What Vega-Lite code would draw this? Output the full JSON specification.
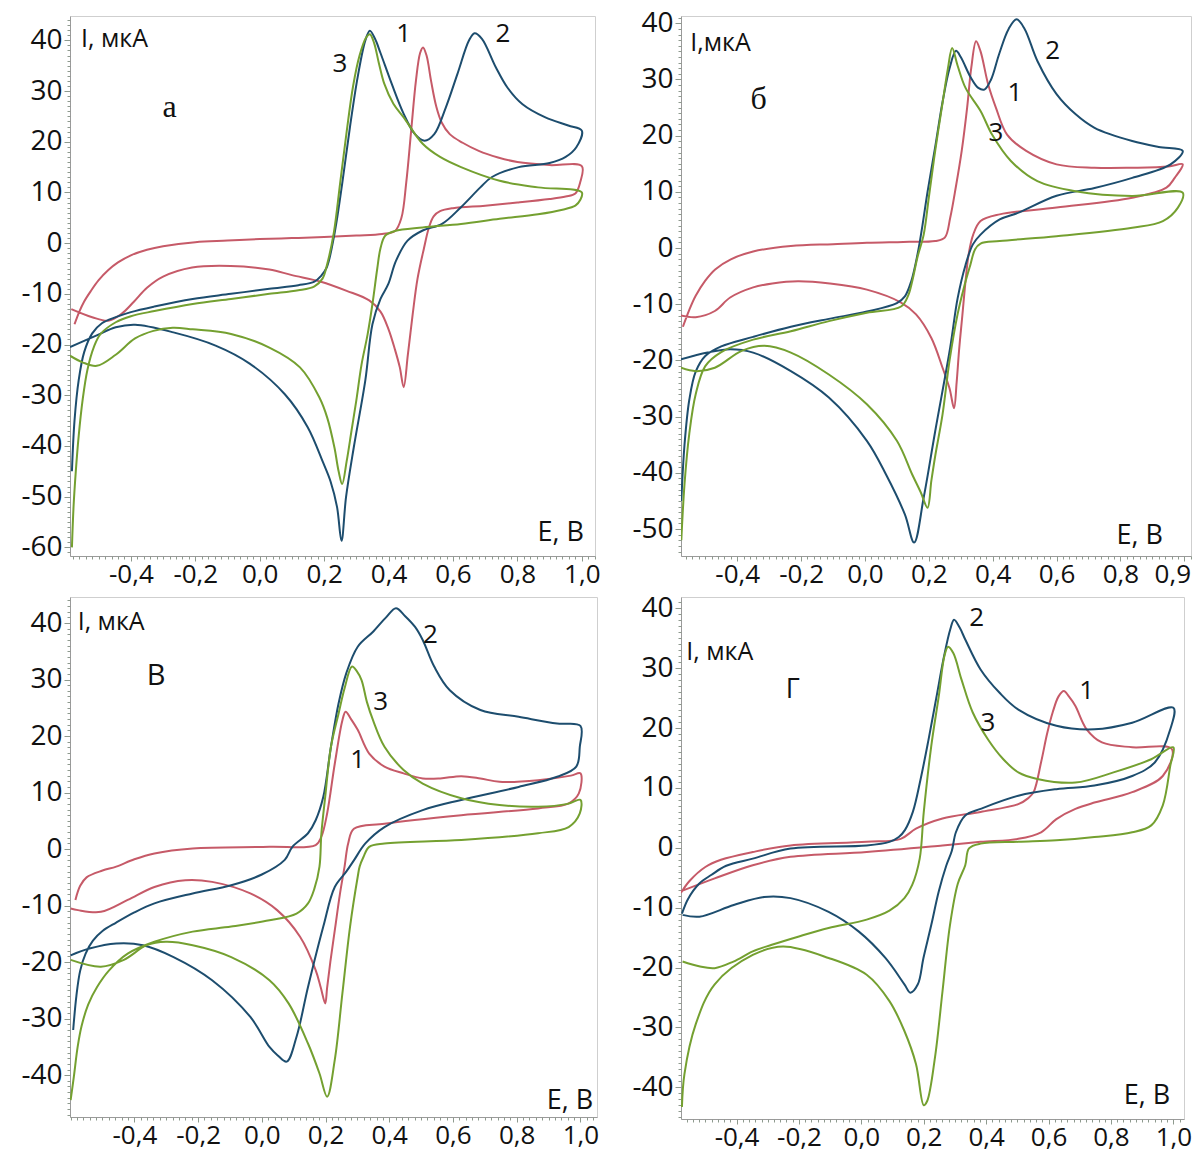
{
"$schema": "https://vega.github.io/schema/vega-lite/v6.json",
"background": "white",
"padding": {"left": 20, "top": 8, "right": 0, "bottom": 2},
"bounds": "flush",
"columns": 2,
"spacing": {"row": 41, "column": 84},
"config": {
 "view": {"stroke": "#cfcfcf", "strokeWidth": 1},
 "font": "Open Sans",
 "axis": {"labelFont": "Open Sans", "labelColor": "#111111", "tickColor": "#8e9a8e", "domainColor": "#9a9a9a", "tickWidth": 1, "grid": false, "labelOverlap": false},
 "text": {"font": "Open Sans", "color": "#111111"}
},
"datasets": {
"a": [
{"c":"1","E":-0.575,"I":-16},{"c":"1","E":-0.56,"I":-13.5},{"c":"1","E":-0.545,"I":-11.5},{"c":"1","E":-0.525,"I":-9.5},{"c":"1","E":-0.5,"I":-7.3},{"c":"1","E":-0.47,"I":-5.3},{"c":"1","E":-0.44,"I":-3.8},{"c":"1","E":-0.4,"I":-2.4},{"c":"1","E":-0.35,"I":-1.3},{"c":"1","E":-0.3,"I":-0.6},{"c":"1","E":-0.2,"I":0.2},{"c":"1","E":-0.1,"I":0.5},{"c":"1","E":0,"I":0.8},{"c":"1","E":0.1,"I":1},{"c":"1","E":0.2,"I":1.2},{"c":"1","E":0.3,"I":1.5},{"c":"1","E":0.38,"I":1.8},{"c":"1","E":0.42,"I":2.4},{"c":"1","E":0.44,"I":5},{"c":"1","E":0.455,"I":12},{"c":"1","E":0.47,"I":22},{"c":"1","E":0.485,"I":32},{"c":"1","E":0.498,"I":37.5},{"c":"1","E":0.507,"I":38.6},{"c":"1","E":0.518,"I":37},{"c":"1","E":0.532,"I":32},{"c":"1","E":0.548,"I":27},{"c":"1","E":0.565,"I":23.8},{"c":"1","E":0.59,"I":21.5},{"c":"1","E":0.63,"I":19.8},{"c":"1","E":0.68,"I":18.2},{"c":"1","E":0.74,"I":16.9},{"c":"1","E":0.8,"I":16},{"c":"1","E":0.9,"I":15.4},{"c":"1","E":1,"I":15.2},{"c":"1","E":0.995,"I":12},{"c":"1","E":0.98,"I":9.8},{"c":"1","E":0.95,"I":9.2},{"c":"1","E":0.9,"I":8.7},{"c":"1","E":0.8,"I":8},{"c":"1","E":0.7,"I":7.4},{"c":"1","E":0.6,"I":6.9},{"c":"1","E":0.56,"I":6.3},{"c":"1","E":0.54,"I":5.3},{"c":"1","E":0.525,"I":3},{"c":"1","E":0.51,"I":-1},{"c":"1","E":0.49,"I":-7},{"c":"1","E":0.475,"I":-14},{"c":"1","E":0.46,"I":-22},{"c":"1","E":0.447,"I":-28.4},{"c":"1","E":0.435,"I":-24.5},{"c":"1","E":0.42,"I":-21},{"c":"1","E":0.4,"I":-17},{"c":"1","E":0.375,"I":-13.5},{"c":"1","E":0.34,"I":-11.3},{"c":"1","E":0.27,"I":-9.4},{"c":"1","E":0.19,"I":-7.6},{"c":"1","E":0.1,"I":-6.3},{"c":"1","E":0.03,"I":-5.2},{"c":"1","E":-0.09,"I":-4.5},{"c":"1","E":-0.21,"I":-4.8},{"c":"1","E":-0.3,"I":-6.6},{"c":"1","E":-0.35,"I":-8.8},{"c":"1","E":-0.39,"I":-11.5},{"c":"1","E":-0.43,"I":-14},{"c":"1","E":-0.47,"I":-15.3},{"c":"1","E":-0.52,"I":-14.6},{"c":"1","E":-0.585,"I":-13},
{"c":"2","E":-0.583,"I":-45},{"c":"2","E":-0.575,"I":-35},{"c":"2","E":-0.562,"I":-27},{"c":"2","E":-0.545,"I":-21.5},{"c":"2","E":-0.52,"I":-17.8},{"c":"2","E":-0.49,"I":-15.8},{"c":"2","E":-0.447,"I":-14.6},{"c":"2","E":-0.4,"I":-13.6},{"c":"2","E":-0.327,"I":-12.5},{"c":"2","E":-0.208,"I":-11},{"c":"2","E":-0.089,"I":-10},{"c":"2","E":0.03,"I":-9},{"c":"2","E":0.12,"I":-8.3},{"c":"2","E":0.17,"I":-7.6},{"c":"2","E":0.19,"I":-6.5},{"c":"2","E":0.208,"I":-4.8},{"c":"2","E":0.232,"I":1.8},{"c":"2","E":0.256,"I":11.7},{"c":"2","E":0.28,"I":22.8},{"c":"2","E":0.304,"I":32.7},{"c":"2","E":0.328,"I":40},{"c":"2","E":0.342,"I":41.9},{"c":"2","E":0.358,"I":40.3},{"c":"2","E":0.375,"I":37.5},{"c":"2","E":0.41,"I":31.4},{"c":"2","E":0.447,"I":25.5},{"c":"2","E":0.482,"I":21.5},{"c":"2","E":0.512,"I":20.2},{"c":"2","E":0.542,"I":21.5},{"c":"2","E":0.578,"I":26.8},{"c":"2","E":0.614,"I":33.4},{"c":"2","E":0.65,"I":40},{"c":"2","E":0.667,"I":41.4},{"c":"2","E":0.69,"I":40.3},{"c":"2","E":0.733,"I":34.7},{"c":"2","E":0.769,"I":30.7},{"c":"2","E":0.816,"I":27.4},{"c":"2","E":0.887,"I":24.8},{"c":"2","E":0.958,"I":23.2},{"c":"2","E":1,"I":22.2},{"c":"2","E":0.983,"I":18.9},{"c":"2","E":0.95,"I":17},{"c":"2","E":0.9,"I":15.8},{"c":"2","E":0.804,"I":15},{"c":"2","E":0.72,"I":13},{"c":"2","E":0.685,"I":11},{"c":"2","E":0.625,"I":7.1},{"c":"2","E":0.566,"I":3.8},{"c":"2","E":0.506,"I":2.5},{"c":"2","E":0.459,"I":0.5},{"c":"2","E":0.423,"I":-3.5},{"c":"2","E":0.399,"I":-8.1},{"c":"2","E":0.375,"I":-11},{"c":"2","E":0.35,"I":-16},{"c":"2","E":0.328,"I":-27},{"c":"2","E":0.292,"I":-40.3},{"c":"2","E":0.268,"I":-50.1},{"c":"2","E":0.254,"I":-58.7},{"c":"2","E":0.24,"I":-52},{"c":"2","E":0.22,"I":-47},{"c":"2","E":0.197,"I":-43.3},{"c":"2","E":0.149,"I":-36.3},{"c":"2","E":0.078,"I":-29.8},{"c":"2","E":-0.03,"I":-23.8},{"c":"2","E":-0.137,"I":-20.2},{"c":"2","E":-0.268,"I":-17.6},{"c":"2","E":-0.387,"I":-16.1},{"c":"2","E":-0.447,"I":-16.6},{"c":"2","E":-0.506,"I":-18.2},{"c":"2","E":-0.589,"I":-20.5},
{"c":"3","E":-0.583,"I":-60},{"c":"3","E":-0.578,"I":-52},{"c":"3","E":-0.571,"I":-45},{"c":"3","E":-0.562,"I":-38},{"c":"3","E":-0.55,"I":-31},{"c":"3","E":-0.535,"I":-25},{"c":"3","E":-0.515,"I":-20.5},{"c":"3","E":-0.494,"I":-17.9},{"c":"3","E":-0.447,"I":-15.6},{"c":"3","E":-0.4,"I":-14.4},{"c":"3","E":-0.327,"I":-13.4},{"c":"3","E":-0.208,"I":-12},{"c":"3","E":-0.089,"I":-11},{"c":"3","E":0.03,"I":-10},{"c":"3","E":0.12,"I":-9.3},{"c":"3","E":0.17,"I":-8.5},{"c":"3","E":0.195,"I":-7},{"c":"3","E":0.21,"I":-4},{"c":"3","E":0.23,"I":2},{"c":"3","E":0.25,"I":12},{"c":"3","E":0.27,"I":22},{"c":"3","E":0.29,"I":31},{"c":"3","E":0.31,"I":37},{"c":"3","E":0.33,"I":40.5},{"c":"3","E":0.342,"I":41.2},{"c":"3","E":0.355,"I":39.5},{"c":"3","E":0.37,"I":35.5},{"c":"3","E":0.387,"I":31.4},{"c":"3","E":0.415,"I":27.5},{"c":"3","E":0.447,"I":24.8},{"c":"3","E":0.506,"I":19.6},{"c":"3","E":0.56,"I":17},{"c":"3","E":0.625,"I":15},{"c":"3","E":0.745,"I":12.3},{"c":"3","E":0.864,"I":11},{"c":"3","E":1,"I":10},{"c":"3","E":0.995,"I":8.5},{"c":"3","E":0.98,"I":7.4},{"c":"3","E":0.94,"I":6.6},{"c":"3","E":0.864,"I":5.7},{"c":"3","E":0.745,"I":4.8},{"c":"3","E":0.625,"I":3.8},{"c":"3","E":0.506,"I":3.1},{"c":"3","E":0.42,"I":2.4},{"c":"3","E":0.39,"I":1.5},{"c":"3","E":0.375,"I":-1},{"c":"3","E":0.365,"I":-5},{"c":"3","E":0.35,"I":-12},{"c":"3","E":0.335,"I":-18},{"c":"3","E":0.316,"I":-24},{"c":"3","E":0.3,"I":-31},{"c":"3","E":0.285,"I":-37},{"c":"3","E":0.27,"I":-43},{"c":"3","E":0.256,"I":-47.5},{"c":"3","E":0.245,"I":-45},{"c":"3","E":0.232,"I":-40.3},{"c":"3","E":0.21,"I":-34.5},{"c":"3","E":0.185,"I":-30.4},{"c":"3","E":0.125,"I":-24.5},{"c":"3","E":0.03,"I":-20.6},{"c":"3","E":-0.089,"I":-17.9},{"c":"3","E":-0.208,"I":-17},{"c":"3","E":-0.27,"I":-16.7},{"c":"3","E":-0.33,"I":-17.3},{"c":"3","E":-0.387,"I":-18.8},{"c":"3","E":-0.447,"I":-22},{"c":"3","E":-0.506,"I":-24.2},{"c":"3","E":-0.55,"I":-23.5},{"c":"3","E":-0.589,"I":-22.2}
],
"b": [
{"c":"1","E":-0.57,"I":-14},{"c":"1","E":-0.55,"I":-11},{"c":"1","E":-0.53,"I":-8.5},{"c":"1","E":-0.5,"I":-5.8},{"c":"1","E":-0.469,"I":-3.8},{"c":"1","E":-0.42,"I":-2},{"c":"1","E":-0.35,"I":-0.6},{"c":"1","E":-0.232,"I":0.36},{"c":"1","E":-0.1,"I":0.7},{"c":"1","E":0.006,"I":0.96},{"c":"1","E":0.12,"I":1.1},{"c":"1","E":0.22,"I":1.25},{"c":"1","E":0.25,"I":1.85},{"c":"1","E":0.267,"I":5.4},{"c":"1","E":0.285,"I":11},{"c":"1","E":0.303,"I":17.3},{"c":"1","E":0.32,"I":25},{"c":"1","E":0.333,"I":32.1},{"c":"1","E":0.348,"I":36.8},{"c":"1","E":0.362,"I":35},{"c":"1","E":0.386,"I":29.1},{"c":"1","E":0.41,"I":25},{"c":"1","E":0.445,"I":20.2},{"c":"1","E":0.505,"I":17.3},{"c":"1","E":0.6,"I":14.9},{"c":"1","E":0.719,"I":14.3},{"c":"1","E":0.837,"I":14.3},{"c":"1","E":0.95,"I":14.5},{"c":"1","E":0.995,"I":14.9},{"c":"1","E":0.97,"I":12.5},{"c":"1","E":0.944,"I":10.75},{"c":"1","E":0.837,"I":8.96},{"c":"1","E":0.6,"I":7.2},{"c":"1","E":0.422,"I":6},{"c":"1","E":0.362,"I":4.8},{"c":"1","E":0.339,"I":2.4},{"c":"1","E":0.325,"I":-1},{"c":"1","E":0.315,"I":-5.9},{"c":"1","E":0.305,"I":-12},{"c":"1","E":0.295,"I":-18},{"c":"1","E":0.287,"I":-24},{"c":"1","E":0.279,"I":-28.5},{"c":"1","E":0.265,"I":-25},{"c":"1","E":0.243,"I":-21.3},{"c":"1","E":0.208,"I":-16},{"c":"1","E":0.16,"I":-11.8},{"c":"1","E":0.113,"I":-9.7},{"c":"1","E":0.006,"I":-7.4},{"c":"1","E":-0.11,"I":-6.3},{"c":"1","E":-0.21,"I":-5.9},{"c":"1","E":-0.29,"I":-6.3},{"c":"1","E":-0.35,"I":-7},{"c":"1","E":-0.422,"I":-8.8},{"c":"1","E":-0.47,"I":-11.2},{"c":"1","E":-0.53,"I":-12.3},{"c":"1","E":-0.576,"I":-12},
{"c":"2","E":-0.575,"I":-45},{"c":"2","E":-0.565,"I":-35},{"c":"2","E":-0.55,"I":-27},{"c":"2","E":-0.53,"I":-22},{"c":"2","E":-0.5,"I":-19.2},{"c":"2","E":-0.45,"I":-17.5},{"c":"2","E":-0.35,"I":-15.8},{"c":"2","E":-0.232,"I":-14},{"c":"2","E":-0.113,"I":-12.6},{"c":"2","E":0.006,"I":-11.3},{"c":"2","E":0.1,"I":-9.8},{"c":"2","E":0.125,"I":-8.6},{"c":"2","E":0.145,"I":-5.9},{"c":"2","E":0.165,"I":-1},{"c":"2","E":0.18,"I":4},{"c":"2","E":0.196,"I":10},{"c":"2","E":0.22,"I":18},{"c":"2","E":0.243,"I":26},{"c":"2","E":0.265,"I":32},{"c":"2","E":0.285,"I":35.1},{"c":"2","E":0.3,"I":34},{"c":"2","E":0.33,"I":30.5},{"c":"2","E":0.355,"I":28.5},{"c":"2","E":0.374,"I":28.2},{"c":"2","E":0.395,"I":30},{"c":"2","E":0.42,"I":34.5},{"c":"2","E":0.45,"I":39},{"c":"2","E":0.475,"I":40.7},{"c":"2","E":0.5,"I":39},{"c":"2","E":0.54,"I":33.3},{"c":"2","E":0.6,"I":27.4},{"c":"2","E":0.66,"I":23.8},{"c":"2","E":0.719,"I":21.4},{"c":"2","E":0.837,"I":19.05},{"c":"2","E":0.92,"I":18},{"c":"2","E":0.995,"I":17.3},{"c":"2","E":0.957,"I":14.9},{"c":"2","E":0.837,"I":12.5},{"c":"2","E":0.719,"I":10.7},{"c":"2","E":0.6,"I":9.3},{"c":"2","E":0.481,"I":6.3},{"c":"2","E":0.422,"I":5.1},{"c":"2","E":0.362,"I":2.4},{"c":"2","E":0.338,"I":0.66},{"c":"2","E":0.315,"I":-3},{"c":"2","E":0.29,"I":-9},{"c":"2","E":0.267,"I":-17.7},{"c":"2","E":0.22,"I":-32.6},{"c":"2","E":0.184,"I":-44.4},{"c":"2","E":0.154,"I":-52.4},{"c":"2","E":0.125,"I":-47.4},{"c":"2","E":0.066,"I":-40.3},{"c":"2","E":0.006,"I":-34.3},{"c":"2","E":-0.113,"I":-26.6},{"c":"2","E":-0.232,"I":-21.9},{"c":"2","E":-0.35,"I":-18.6},{"c":"2","E":-0.422,"I":-18},{"c":"2","E":-0.493,"I":-18.6},{"c":"2","E":-0.576,"I":-19.8},
{"c":"3","E":-0.575,"I":-52},{"c":"3","E":-0.565,"I":-42},{"c":"3","E":-0.55,"I":-33},{"c":"3","E":-0.53,"I":-26},{"c":"3","E":-0.5,"I":-21},{"c":"3","E":-0.45,"I":-18.5},{"c":"3","E":-0.35,"I":-16.3},{"c":"3","E":-0.232,"I":-14.8},{"c":"3","E":-0.113,"I":-13},{"c":"3","E":0.006,"I":-11.5},{"c":"3","E":0.113,"I":-10.4},{"c":"3","E":0.135,"I":-8.5},{"c":"3","E":0.148,"I":-5.9},{"c":"3","E":0.165,"I":-1.5},{"c":"3","E":0.184,"I":2.4},{"c":"3","E":0.2,"I":9},{"c":"3","E":0.22,"I":17.3},{"c":"3","E":0.244,"I":26.2},{"c":"3","E":0.26,"I":32},{"c":"3","E":0.273,"I":35.6},{"c":"3","E":0.29,"I":32.5},{"c":"3","E":0.315,"I":28.5},{"c":"3","E":0.362,"I":24.4},{"c":"3","E":0.398,"I":20.2},{"c":"3","E":0.457,"I":15.5},{"c":"3","E":0.54,"I":11.9},{"c":"3","E":0.659,"I":10.1},{"c":"3","E":0.837,"I":9.26},{"c":"3","E":0.995,"I":9.85},{"c":"3","E":0.98,"I":7.2},{"c":"3","E":0.933,"I":4.8},{"c":"3","E":0.837,"I":3.6},{"c":"3","E":0.6,"I":2.1},{"c":"3","E":0.422,"I":1.25},{"c":"3","E":0.362,"I":0.8},{"c":"3","E":0.345,"I":-0.2},{"c":"3","E":0.33,"I":-3},{"c":"3","E":0.31,"I":-7},{"c":"3","E":0.29,"I":-11.8},{"c":"3","E":0.265,"I":-20},{"c":"3","E":0.243,"I":-29.6},{"c":"3","E":0.22,"I":-37},{"c":"3","E":0.208,"I":-41.4},{"c":"3","E":0.196,"I":-46.2},{"c":"3","E":0.175,"I":-43.5},{"c":"3","E":0.148,"I":-40.3},{"c":"3","E":0.1,"I":-34.3},{"c":"3","E":0.006,"I":-27.8},{"c":"3","E":-0.113,"I":-22.5},{"c":"3","E":-0.232,"I":-18.6},{"c":"3","E":-0.315,"I":-17.4},{"c":"3","E":-0.386,"I":-18.3},{"c":"3","E":-0.47,"I":-21.3},{"c":"3","E":-0.529,"I":-21.9},{"c":"3","E":-0.576,"I":-21.3}
],
"v": [
{"c":"1","E":-0.585,"I":-9},{"c":"1","E":-0.57,"I":-6.5},{"c":"1","E":-0.55,"I":-5},{"c":"1","E":-0.5,"I":-3.8},{"c":"1","E":-0.457,"I":-3.1},{"c":"1","E":-0.4,"I":-1.8},{"c":"1","E":-0.337,"I":-0.77},{"c":"1","E":-0.217,"I":0.11},{"c":"1","E":0.024,"I":0.4},{"c":"1","E":0.169,"I":0.7},{"c":"1","E":0.187,"I":2.2},{"c":"1","E":0.205,"I":6.3},{"c":"1","E":0.229,"I":15.1},{"c":"1","E":0.253,"I":22.8},{"c":"1","E":0.263,"I":24.3},{"c":"1","E":0.28,"I":23},{"c":"1","E":0.301,"I":21.1},{"c":"1","E":0.337,"I":16.9},{"c":"1","E":0.385,"I":14.6},{"c":"1","E":0.445,"I":13.4},{"c":"1","E":0.505,"I":12.5},{"c":"1","E":0.56,"I":12.5},{"c":"1","E":0.626,"I":12.9},{"c":"1","E":0.686,"I":12.5},{"c":"1","E":0.746,"I":11.9},{"c":"1","E":0.867,"I":12.2},{"c":"1","E":0.97,"I":13},{"c":"1","E":1,"I":13.4},{"c":"1","E":0.995,"I":9.85},{"c":"1","E":0.963,"I":8.1},{"c":"1","E":0.867,"I":7.2},{"c":"1","E":0.626,"I":6},{"c":"1","E":0.385,"I":4.5},{"c":"1","E":0.289,"I":3.6},{"c":"1","E":0.271,"I":1},{"c":"1","E":0.26,"I":-3},{"c":"1","E":0.245,"I":-8},{"c":"1","E":0.23,"I":-14},{"c":"1","E":0.215,"I":-20},{"c":"1","E":0.205,"I":-24.5},{"c":"1","E":0.199,"I":-27.3},{"c":"1","E":0.185,"I":-24.5},{"c":"1","E":0.169,"I":-21.4},{"c":"1","E":0.12,"I":-15.5},{"c":"1","E":0.048,"I":-10.8},{"c":"1","E":-0.036,"I":-7.85},{"c":"1","E":-0.156,"I":-5.8},{"c":"1","E":-0.24,"I":-5.5},{"c":"1","E":-0.337,"I":-6.7},{"c":"1","E":-0.421,"I":-9},{"c":"1","E":-0.505,"I":-11.1},{"c":"1","E":-0.577,"I":-10.8},{"c":"1","E":-0.6,"I":-10.5},
{"c":"2","E":-0.592,"I":-32},{"c":"2","E":-0.582,"I":-26},{"c":"2","E":-0.57,"I":-21.5},{"c":"2","E":-0.553,"I":-18.5},{"c":"2","E":-0.53,"I":-16.2},{"c":"2","E":-0.5,"I":-14.5},{"c":"2","E":-0.457,"I":-13},{"c":"2","E":-0.4,"I":-11.2},{"c":"2","E":-0.337,"I":-9.6},{"c":"2","E":-0.217,"I":-7.85},{"c":"2","E":-0.096,"I":-6.4},{"c":"2","E":0,"I":-4.5},{"c":"2","E":0.072,"I":-1.9},{"c":"2","E":0.096,"I":0.4},{"c":"2","E":0.145,"I":2.8},{"c":"2","E":0.169,"I":5.1},{"c":"2","E":0.193,"I":9.25},{"c":"2","E":0.217,"I":18.1},{"c":"2","E":0.241,"I":25.8},{"c":"2","E":0.265,"I":31.1},{"c":"2","E":0.301,"I":35.8},{"c":"2","E":0.35,"I":38.5},{"c":"2","E":0.39,"I":41},{"c":"2","E":0.421,"I":42.6},{"c":"2","E":0.45,"I":41.2},{"c":"2","E":0.481,"I":39.3},{"c":"2","E":0.505,"I":37},{"c":"2","E":0.541,"I":32.3},{"c":"2","E":0.59,"I":28.1},{"c":"2","E":0.686,"I":24.6},{"c":"2","E":0.806,"I":23.4},{"c":"2","E":0.927,"I":22.2},{"c":"2","E":1,"I":21.8},{"c":"2","E":0.998,"I":18.1},{"c":"2","E":0.987,"I":14.6},{"c":"2","E":0.927,"I":12.8},{"c":"2","E":0.806,"I":11},{"c":"2","E":0.626,"I":8.7},{"c":"2","E":0.505,"I":6.9},{"c":"2","E":0.385,"I":3.9},{"c":"2","E":0.325,"I":1},{"c":"2","E":0.289,"I":-2},{"c":"2","E":0.265,"I":-4},{"c":"2","E":0.229,"I":-6.7},{"c":"2","E":0.193,"I":-13.7},{"c":"2","E":0.145,"I":-24.4},{"c":"2","E":0.109,"I":-33.2},{"c":"2","E":0.078,"I":-37.6},{"c":"2","E":0.05,"I":-36.5},{"c":"2","E":0.024,"I":-35},{"c":"2","E":-0.036,"I":-29.7},{"c":"2","E":-0.156,"I":-23.2},{"c":"2","E":-0.277,"I":-19.1},{"c":"2","E":-0.373,"I":-17},{"c":"2","E":-0.457,"I":-16.7},{"c":"2","E":-0.541,"I":-17.6},{"c":"2","E":-0.6,"I":-18.8},
{"c":"3","E":-0.6,"I":-44.4},{"c":"3","E":-0.59,"I":-40.3},{"c":"3","E":-0.578,"I":-35},{"c":"3","E":-0.566,"I":-31.4},{"c":"3","E":-0.545,"I":-27.5},{"c":"3","E":-0.517,"I":-24.4},{"c":"3","E":-0.48,"I":-21.5},{"c":"3","E":-0.421,"I":-18.5},{"c":"3","E":-0.337,"I":-16.4},{"c":"3","E":-0.217,"I":-14.6},{"c":"3","E":-0.096,"I":-13.7},{"c":"3","E":0.024,"I":-12.6},{"c":"3","E":0.109,"I":-11.4},{"c":"3","E":0.145,"I":-9.6},{"c":"3","E":0.165,"I":-7},{"c":"3","E":0.181,"I":-3.1},{"c":"3","E":0.187,"I":2.8},{"c":"3","E":0.199,"I":9.25},{"c":"3","E":0.217,"I":18.1},{"c":"3","E":0.241,"I":24},{"c":"3","E":0.26,"I":28.5},{"c":"3","E":0.283,"I":32.3},{"c":"3","E":0.298,"I":31.5},{"c":"3","E":0.313,"I":29.9},{"c":"3","E":0.33,"I":26},{"c":"3","E":0.349,"I":22.8},{"c":"3","E":0.385,"I":18.1},{"c":"3","E":0.445,"I":14},{"c":"3","E":0.505,"I":11.6},{"c":"3","E":0.626,"I":9},{"c":"3","E":0.746,"I":7.8},{"c":"3","E":0.867,"I":7.5},{"c":"3","E":0.96,"I":8},{"c":"3","E":1,"I":8.7},{"c":"3","E":0.998,"I":6.3},{"c":"3","E":0.963,"I":3.9},{"c":"3","E":0.867,"I":2.8},{"c":"3","E":0.626,"I":1.6},{"c":"3","E":0.385,"I":1},{"c":"3","E":0.337,"I":0.4},{"c":"3","E":0.319,"I":-1.4},{"c":"3","E":0.307,"I":-3.1},{"c":"3","E":0.301,"I":-4.9},{"c":"3","E":0.277,"I":-13.7},{"c":"3","E":0.253,"I":-25.5},{"c":"3","E":0.229,"I":-37.3},{"c":"3","E":0.205,"I":-43.8},{"c":"3","E":0.181,"I":-39.7},{"c":"3","E":0.145,"I":-34.4},{"c":"3","E":0.084,"I":-27.3},{"c":"3","E":0.024,"I":-23.2},{"c":"3","E":-0.096,"I":-19.1},{"c":"3","E":-0.217,"I":-17},{"c":"3","E":-0.301,"I":-16.4},{"c":"3","E":-0.361,"I":-17},{"c":"3","E":-0.433,"I":-19.6},{"c":"3","E":-0.505,"I":-20.8},{"c":"3","E":-0.6,"I":-19.6}
],
"g": [
{"c":"1","E":-0.578,"I":-7.5},{"c":"1","E":-0.55,"I":-5.5},{"c":"1","E":-0.5,"I":-3.2},{"c":"1","E":-0.45,"I":-2},{"c":"1","E":-0.348,"I":-0.7},{"c":"1","E":-0.227,"I":0.4},{"c":"1","E":0.017,"I":1},{"c":"1","E":0.126,"I":1.5},{"c":"1","E":0.175,"I":3.2},{"c":"1","E":0.26,"I":4.9},{"c":"1","E":0.382,"I":6},{"c":"1","E":0.503,"I":7.3},{"c":"1","E":0.535,"I":8.3},{"c":"1","E":0.552,"I":9.3},{"c":"1","E":0.576,"I":14.3},{"c":"1","E":0.595,"I":19},{"c":"1","E":0.613,"I":22.6},{"c":"1","E":0.632,"I":25.3},{"c":"1","E":0.649,"I":26.2},{"c":"1","E":0.665,"I":25.3},{"c":"1","E":0.686,"I":23.7},{"c":"1","E":0.722,"I":19.8},{"c":"1","E":0.771,"I":17.6},{"c":"1","E":0.868,"I":16.8},{"c":"1","E":0.995,"I":16.5},{"c":"1","E":0.966,"I":12},{"c":"1","E":0.868,"I":9.3},{"c":"1","E":0.75,"I":7.6},{"c":"1","E":0.686,"I":6.5},{"c":"1","E":0.625,"I":4.8},{"c":"1","E":0.576,"I":2.6},{"c":"1","E":0.503,"I":1.5},{"c":"1","E":0.382,"I":1},{"c":"1","E":0.26,"I":0.4},{"c":"1","E":0.017,"I":-0.7},{"c":"1","E":-0.227,"I":-1.5},{"c":"1","E":-0.348,"I":-2.9},{"c":"1","E":-0.47,"I":-5.1},{"c":"1","E":-0.58,"I":-7.3},
{"c":"2","E":-0.575,"I":-11},{"c":"2","E":-0.555,"I":-8.5},{"c":"2","E":-0.52,"I":-6},{"c":"2","E":-0.48,"I":-4.5},{"c":"2","E":-0.433,"I":-3},{"c":"2","E":-0.348,"I":-1.8},{"c":"2","E":-0.227,"I":-0.13},{"c":"2","E":0.017,"I":0.4},{"c":"2","E":0.09,"I":1},{"c":"2","E":0.12,"I":1.8},{"c":"2","E":0.14,"I":3},{"c":"2","E":0.165,"I":6},{"c":"2","E":0.19,"I":11.5},{"c":"2","E":0.215,"I":18},{"c":"2","E":0.24,"I":25},{"c":"2","E":0.265,"I":32},{"c":"2","E":0.285,"I":36.5},{"c":"2","E":0.297,"I":38.1},{"c":"2","E":0.315,"I":36.8},{"c":"2","E":0.333,"I":34.8},{"c":"2","E":0.382,"I":29.8},{"c":"2","E":0.443,"I":25.9},{"c":"2","E":0.503,"I":23.1},{"c":"2","E":0.625,"I":20.4},{"c":"2","E":0.747,"I":19.8},{"c":"2","E":0.868,"I":20.9},{"c":"2","E":1,"I":23.4},{"c":"2","E":0.99,"I":19.8},{"c":"2","E":0.941,"I":14.3},{"c":"2","E":0.868,"I":12},{"c":"2","E":0.747,"I":10.4},{"c":"2","E":0.625,"I":9.8},{"c":"2","E":0.503,"I":8.7},{"c":"2","E":0.382,"I":6.5},{"c":"2","E":0.333,"I":5.4},{"c":"2","E":0.303,"I":2.6},{"c":"2","E":0.29,"I":-0.5},{"c":"2","E":0.272,"I":-3},{"c":"2","E":0.248,"I":-7.3},{"c":"2","E":0.224,"I":-12.9},{"c":"2","E":0.199,"I":-18.4},{"c":"2","E":0.181,"I":-22.8},{"c":"2","E":0.157,"I":-24.2},{"c":"2","E":0.138,"I":-22.8},{"c":"2","E":0.077,"I":-18.4},{"c":"2","E":-0.008,"I":-14},{"c":"2","E":-0.105,"I":-10.7},{"c":"2","E":-0.227,"I":-8.4},{"c":"2","E":-0.312,"I":-8.2},{"c":"2","E":-0.409,"I":-9.55},{"c":"2","E":-0.519,"I":-11.5},{"c":"2","E":-0.573,"I":-11.2},
{"c":"3","E":-0.573,"I":-19},{"c":"3","E":-0.52,"I":-19.8},{"c":"3","E":-0.47,"I":-20.1},{"c":"3","E":-0.41,"I":-19},{"c":"3","E":-0.348,"I":-17.3},{"c":"3","E":-0.287,"I":-16.2},{"c":"3","E":-0.2,"I":-14.8},{"c":"3","E":-0.105,"I":-13.4},{"c":"3","E":0.017,"I":-12},{"c":"3","E":0.09,"I":-10.5},{"c":"3","E":0.138,"I":-8.4},{"c":"3","E":0.163,"I":-6.2},{"c":"3","E":0.187,"I":-1.8},{"c":"3","E":0.2,"I":5.96},{"c":"3","E":0.224,"I":17},{"c":"3","E":0.248,"I":25.3},{"c":"3","E":0.266,"I":32},{"c":"3","E":0.278,"I":33.6},{"c":"3","E":0.295,"I":32.5},{"c":"3","E":0.321,"I":28.1},{"c":"3","E":0.357,"I":22.6},{"c":"3","E":0.406,"I":18.1},{"c":"3","E":0.455,"I":14.8},{"c":"3","E":0.503,"I":12.6},{"c":"3","E":0.564,"I":11.5},{"c":"3","E":0.686,"I":10.9},{"c":"3","E":0.808,"I":12.6},{"c":"3","E":0.929,"I":14.8},{"c":"3","E":1,"I":16.8},{"c":"3","E":0.99,"I":13.7},{"c":"3","E":0.966,"I":7.1},{"c":"3","E":0.929,"I":3.75},{"c":"3","E":0.868,"I":2.6},{"c":"3","E":0.747,"I":1.8},{"c":"3","E":0.625,"I":1.25},{"c":"3","E":0.503,"I":1},{"c":"3","E":0.382,"I":0.7},{"c":"3","E":0.345,"I":-0.1},{"c":"3","E":0.333,"I":-2.9},{"c":"3","E":0.309,"I":-6},{"c":"3","E":0.284,"I":-12.9},{"c":"3","E":0.26,"I":-24},{"c":"3","E":0.236,"I":-35},{"c":"3","E":0.211,"I":-42.3},{"c":"3","E":0.2,"I":-43},{"c":"3","E":0.175,"I":-36.1},{"c":"3","E":0.138,"I":-30.6},{"c":"3","E":0.09,"I":-25.6},{"c":"3","E":0.017,"I":-21.2},{"c":"3","E":-0.105,"I":-18.4},{"c":"3","E":-0.251,"I":-16.5},{"c":"3","E":-0.348,"I":-17.9},{"c":"3","E":-0.47,"I":-22.8},{"c":"3","E":-0.531,"I":-29.5},{"c":"3","E":-0.567,"I":-37.8},{"c":"3","E":-0.575,"I":-43.3}
],
"ta": [
{"t":"I, мкА","k":"ax","E":-0.555,"I":38.6},{"t":"Е, В","k":"ex","E":1.007,"I":-58.7},{"t":"3","k":"n","E":0.249,"I":33.7},{"t":"1","k":"n","E":0.447,"I":39.6},{"t":"2","k":"n","E":0.755,"I":39.6},{"t":"а","k":"l","E":-0.28,"I":24.8}
],
"tb": [
{"t":"I,мкА","k":"ax","E":-0.547,"I":35.05},{"t":"Е, В","k":"ex","E":0.933,"I":-52.7},{"t":"2","k":"n","E":0.588,"I":33.6},{"t":"1","k":"n","E":0.47,"I":26.2},{"t":"3","k":"n","E":0.41,"I":19},{"t":"б","k":"l","E":-0.333,"I":24.7}
],
"tv": [
{"t":"I, мкА","k":"ax","E":-0.578,"I":38.8},{"t":"Е, В","k":"ex","E":1.04,"I":-45.9},{"t":"2","k":"n","E":0.529,"I":36.4},{"t":"3","k":"n","E":0.373,"I":24.6},{"t":"1","k":"n","E":0.301,"I":14.3},{"t":"В","k":"l","E":-0.332,"I":29}
],
"tg": [
{"t":"I, мкА","k":"ax","E":-0.561,"I":31.4},{"t":"Е, В","k":"ex","E":0.99,"I":-42.8},{"t":"2","k":"n","E":0.37,"I":37},{"t":"1","k":"n","E":0.722,"I":24.8},{"t":"3","k":"n","E":0.406,"I":19.5},{"t":"Г","k":"l","E":-0.22,"I":25.1}
]
},
"concat": [
{
 "width": 525, "height": 540,
 "resolve": {"axis": {"x": "independent", "y": "independent"}},
 "layer": [
  {"data": {"name": "a"}, "mark": {"type": "line", "strokeWidth": 2, "clip": true, "interpolate": "catmull-rom"},
   "encoding": {
    "x": {"field": "E", "type": "quantitative", "scale": {"domain": [-0.589, 1.041], "nice": false, "zero": false},
      "axis": {"orient": "bottom", "title": null, "values": [-0.4,-0.2,0,0.2,0.4,0.6,0.8,1], "labelExpr": "replace((datum.value < 0 ? '-' : '') + format(abs(datum.value), '.1f'), '.', ',')", "tickSize": 5, "labelPadding": 0, "labelOverlap": false, "labelFlush": false, "labelFontSize": 26}},
    "y": {"field": "I", "type": "quantitative", "scale": {"domain": [-61.7, 44.8], "nice": false, "zero": false},
      "axis": {"orient": "left", "title": null, "values": [-60,-50,-40,-30,-20,-10,0,10,20,30,40], "labelExpr": "(datum.value < 0 ? '-' : '') + abs(datum.value)", "tickSize": 6, "labelPadding": 2, "labelOverlap": false, "labelFlush": false, "labelFontSize": 28}},
    "color": {"field": "c", "type": "nominal", "scale": {"domain": ["1","2","3"], "range": ["#c65a68","#1d4d6e","#74a030"]}, "legend": null},
    "order": {"value": null}}},
  {"data": {"name": "ta"}, "transform": [{"filter": "datum.k == 'ax'"}], "mark": {"type": "text", "align": "left", "baseline": "alphabetic", "fontSize": 25},
   "encoding": {
    "x": {"field": "E", "type": "quantitative", "axis": {"orient": "bottom", "title": null, "labels": false, "domain": false, "tickSize": 3, "values": [-0.58,-0.56,-0.54,-0.52,-0.5,-0.48,-0.46,-0.44,-0.42,-0.4,-0.38,-0.36,-0.34,-0.32,-0.3,-0.28,-0.26,-0.24,-0.22,-0.2,-0.18,-0.16,-0.14,-0.12,-0.1,-0.08,-0.06,-0.04,-0.02,0,0.02,0.04,0.06,0.08,0.1,0.12,0.14,0.16,0.18,0.2,0.22,0.24,0.26,0.28,0.3,0.32,0.34,0.36,0.38,0.4,0.42,0.44,0.46,0.48,0.5,0.52,0.54,0.56,0.58,0.6,0.62,0.64,0.66,0.68,0.7,0.72,0.74,0.76,0.78,0.8,0.82,0.84,0.86,0.88,0.9,0.92,0.94,0.96,0.98,1,1.02,1.04]}},
    "y": {"field": "I", "type": "quantitative", "axis": {"orient": "left", "title": null, "labels": false, "domain": false, "tickSize": 3, "values": [-61,-60,-59,-58,-57,-56,-55,-54,-53,-52,-51,-50,-49,-48,-47,-46,-45,-44,-43,-42,-41,-40,-39,-38,-37,-36,-35,-34,-33,-32,-31,-30,-29,-28,-27,-26,-25,-24,-23,-22,-21,-20,-19,-18,-17,-16,-15,-14,-13,-12,-11,-10,-9,-8,-7,-6,-5,-4,-3,-2,-1,0,1,2,3,4,5,6,7,8,9,10,11,12,13,14,15,16,17,18,19,20,21,22,23,24,25,26,27,28,29,30,31,32,33,34,35,36,37,38,39,40,41,42,43,44]}},
    "text": {"field": "t", "type": "nominal"}}},
  {"data": {"name": "ta"}, "transform": [{"filter": "datum.k == 'ex'"}], "mark": {"type": "text", "align": "right", "baseline": "alphabetic", "fontSize": 27},
   "encoding": {"x": {"field": "E", "type": "quantitative", "axis": null}, "y": {"field": "I", "type": "quantitative", "axis": null}, "text": {"field": "t", "type": "nominal"}}},
  {"data": {"name": "ta"}, "transform": [{"filter": "datum.k == 'n'"}], "mark": {"type": "text", "align": "center", "baseline": "alphabetic", "fontSize": 26},
   "encoding": {"x": {"field": "E", "type": "quantitative", "axis": null}, "y": {"field": "I", "type": "quantitative", "axis": null}, "text": {"field": "t", "type": "nominal"}}},
  {"data": {"name": "ta"}, "transform": [{"filter": "datum.k == 'l'"}], "mark": {"type": "text", "align": "center", "baseline": "alphabetic", "fontSize": 32, "font": "Liberation Serif"},
   "encoding": {"x": {"field": "E", "type": "quantitative", "axis": null}, "y": {"field": "I", "type": "quantitative", "axis": null}, "text": {"field": "t", "type": "nominal"}}}
 ]
},
{
 "width": 510, "height": 540,
 "resolve": {"axis": {"x": "independent", "y": "independent"}},
 "layer": [
  {"data": {"name": "b"}, "mark": {"type": "line", "strokeWidth": 2, "clip": true, "interpolate": "catmull-rom"},
   "encoding": {
    "x": {"field": "E", "type": "quantitative", "scale": {"domain": [-0.576, 1.021], "nice": false, "zero": false},
      "axis": {"orient": "bottom", "title": null, "values": [-0.4,-0.2,0,0.2,0.4,0.6,0.8,1], "labelExpr": "datum.value == 1 ? '0,9' : replace((datum.value < 0 ? '-' : '') + format(abs(datum.value), '.1f'), '.', ',')", "labelOffset": {"condition": {"test": "datum.value == 1", "value": -12}, "value": 0}, "tickSize": 5, "labelPadding": 0, "labelOverlap": false, "labelFlush": false, "labelFontSize": 26}},
    "y": {"field": "I", "type": "quantitative", "scale": {"domain": [-54.8, 41.3], "nice": false, "zero": false},
      "axis": {"orient": "left", "title": null, "values": [-50,-40,-30,-20,-10,0,10,20,30,40], "labelExpr": "(datum.value < 0 ? '-' : '') + abs(datum.value)", "tickSize": 6, "labelPadding": 2, "labelOverlap": false, "labelFlush": false, "labelFontSize": 28}},
    "color": {"field": "c", "type": "nominal", "scale": {"domain": ["1","2","3"], "range": ["#c65a68","#1d4d6e","#74a030"]}, "legend": null},
    "order": {"value": null}}},
  {"data": {"name": "tb"}, "transform": [{"filter": "datum.k == 'ax'"}], "mark": {"type": "text", "align": "left", "baseline": "alphabetic", "fontSize": 25},
   "encoding": {
    "x": {"field": "E", "type": "quantitative", "axis": {"orient": "bottom", "title": null, "labels": false, "domain": false, "tickSize": 3, "values": [-0.56,-0.54,-0.52,-0.5,-0.48,-0.46,-0.44,-0.42,-0.4,-0.38,-0.36,-0.34,-0.32,-0.3,-0.28,-0.26,-0.24,-0.22,-0.2,-0.18,-0.16,-0.14,-0.12,-0.1,-0.08,-0.06,-0.04,-0.02,0,0.02,0.04,0.06,0.08,0.1,0.12,0.14,0.16,0.18,0.2,0.22,0.24,0.26,0.28,0.3,0.32,0.34,0.36,0.38,0.4,0.42,0.44,0.46,0.48,0.5,0.52,0.54,0.56,0.58,0.6,0.62,0.64,0.66,0.68,0.7,0.72,0.74,0.76,0.78,0.8,0.82,0.84,0.86,0.88,0.9,0.92,0.94,0.96,0.98,1,1.02]}},
    "y": {"field": "I", "type": "quantitative", "axis": {"orient": "left", "title": null, "labels": false, "domain": false, "tickSize": 3, "values": [-54,-53,-52,-51,-50,-49,-48,-47,-46,-45,-44,-43,-42,-41,-40,-39,-38,-37,-36,-35,-34,-33,-32,-31,-30,-29,-28,-27,-26,-25,-24,-23,-22,-21,-20,-19,-18,-17,-16,-15,-14,-13,-12,-11,-10,-9,-8,-7,-6,-5,-4,-3,-2,-1,0,1,2,3,4,5,6,7,8,9,10,11,12,13,14,15,16,17,18,19,20,21,22,23,24,25,26,27,28,29,30,31,32,33,34,35,36,37,38,39,40,41]}},
    "text": {"field": "t", "type": "nominal"}}},
  {"data": {"name": "tb"}, "transform": [{"filter": "datum.k == 'ex'"}], "mark": {"type": "text", "align": "right", "baseline": "alphabetic", "fontSize": 27},
   "encoding": {"x": {"field": "E", "type": "quantitative", "axis": null}, "y": {"field": "I", "type": "quantitative", "axis": null}, "text": {"field": "t", "type": "nominal"}}},
  {"data": {"name": "tb"}, "transform": [{"filter": "datum.k == 'n'"}], "mark": {"type": "text", "align": "center", "baseline": "alphabetic", "fontSize": 26},
   "encoding": {"x": {"field": "E", "type": "quantitative", "axis": null}, "y": {"field": "I", "type": "quantitative", "axis": null}, "text": {"field": "t", "type": "nominal"}}},
  {"data": {"name": "tb"}, "transform": [{"filter": "datum.k == 'l'"}], "mark": {"type": "text", "align": "center", "baseline": "alphabetic", "fontSize": 32, "font": "Liberation Serif"},
   "encoding": {"x": {"field": "E", "type": "quantitative", "axis": null}, "y": {"field": "I", "type": "quantitative", "axis": null}, "text": {"field": "t", "type": "nominal"}}}
 ]
},
{
 "width": 527, "height": 520,
 "resolve": {"axis": {"x": "independent", "y": "independent"}},
 "layer": [
  {"data": {"name": "v"}, "mark": {"type": "line", "strokeWidth": 2, "clip": true, "interpolate": "catmull-rom"},
   "encoding": {
    "x": {"field": "E", "type": "quantitative", "scale": {"domain": [-0.602, 1.052], "nice": false, "zero": false},
      "axis": {"orient": "bottom", "title": null, "values": [-0.4,-0.2,0,0.2,0.4,0.6,0.8,1], "labelExpr": "replace((datum.value < 0 ? '-' : '') + format(abs(datum.value), '.1f'), '.', ',')", "tickSize": 5, "labelPadding": 0, "labelOverlap": false, "labelFlush": false, "labelFontSize": 26}},
    "y": {"field": "I", "type": "quantitative", "scale": {"domain": [-47.4, 44.6], "nice": false, "zero": false},
      "axis": {"orient": "left", "title": null, "values": [-40,-30,-20,-10,0,10,20,30,40], "labelExpr": "(datum.value < 0 ? '-' : '') + abs(datum.value)", "tickSize": 6, "labelPadding": 2, "labelOverlap": false, "labelFlush": false, "labelFontSize": 28}},
    "color": {"field": "c", "type": "nominal", "scale": {"domain": ["1","2","3"], "range": ["#c65a68","#1d4d6e","#74a030"]}, "legend": null},
    "order": {"value": null}}},
  {"data": {"name": "tv"}, "transform": [{"filter": "datum.k == 'ax'"}], "mark": {"type": "text", "align": "left", "baseline": "alphabetic", "fontSize": 25},
   "encoding": {
    "x": {"field": "E", "type": "quantitative", "axis": {"orient": "bottom", "title": null, "labels": false, "domain": false, "tickSize": 3, "values": [-0.6,-0.58,-0.56,-0.54,-0.52,-0.5,-0.48,-0.46,-0.44,-0.42,-0.4,-0.38,-0.36,-0.34,-0.32,-0.3,-0.28,-0.26,-0.24,-0.22,-0.2,-0.18,-0.16,-0.14,-0.12,-0.1,-0.08,-0.06,-0.04,-0.02,0,0.02,0.04,0.06,0.08,0.1,0.12,0.14,0.16,0.18,0.2,0.22,0.24,0.26,0.28,0.3,0.32,0.34,0.36,0.38,0.4,0.42,0.44,0.46,0.48,0.5,0.52,0.54,0.56,0.58,0.6,0.62,0.64,0.66,0.68,0.7,0.72,0.74,0.76,0.78,0.8,0.82,0.84,0.86,0.88,0.9,0.92,0.94,0.96,0.98,1,1.02,1.04]}},
    "y": {"field": "I", "type": "quantitative", "axis": {"orient": "left", "title": null, "labels": false, "domain": false, "tickSize": 3, "values": [-47,-46,-45,-44,-43,-42,-41,-40,-39,-38,-37,-36,-35,-34,-33,-32,-31,-30,-29,-28,-27,-26,-25,-24,-23,-22,-21,-20,-19,-18,-17,-16,-15,-14,-13,-12,-11,-10,-9,-8,-7,-6,-5,-4,-3,-2,-1,0,1,2,3,4,5,6,7,8,9,10,11,12,13,14,15,16,17,18,19,20,21,22,23,24,25,26,27,28,29,30,31,32,33,34,35,36,37,38,39,40,41,42,43,44]}},
    "text": {"field": "t", "type": "nominal"}}},
  {"data": {"name": "tv"}, "transform": [{"filter": "datum.k == 'ex'"}], "mark": {"type": "text", "align": "right", "baseline": "alphabetic", "fontSize": 27},
   "encoding": {"x": {"field": "E", "type": "quantitative", "axis": null}, "y": {"field": "I", "type": "quantitative", "axis": null}, "text": {"field": "t", "type": "nominal"}}},
  {"data": {"name": "tv"}, "transform": [{"filter": "datum.k == 'n'"}], "mark": {"type": "text", "align": "center", "baseline": "alphabetic", "fontSize": 26},
   "encoding": {"x": {"field": "E", "type": "quantitative", "axis": null}, "y": {"field": "I", "type": "quantitative", "axis": null}, "text": {"field": "t", "type": "nominal"}}},
  {"data": {"name": "tv"}, "transform": [{"filter": "datum.k == 'l'"}], "mark": {"type": "text", "align": "center", "baseline": "alphabetic", "fontSize": 29},
   "encoding": {"x": {"field": "E", "type": "quantitative", "axis": null}, "y": {"field": "I", "type": "quantitative", "axis": null}, "text": {"field": "t", "type": "nominal"}}}
 ]
},
{
 "width": 503, "height": 522,
 "resolve": {"axis": {"x": "independent", "y": "independent"}},
 "layer": [
  {"data": {"name": "g"}, "mark": {"type": "line", "strokeWidth": 2, "clip": true, "interpolate": "catmull-rom"},
   "encoding": {
    "x": {"field": "E", "type": "quantitative", "scale": {"domain": [-0.578, 1.034], "nice": false, "zero": false},
      "axis": {"orient": "bottom", "title": null, "values": [-0.4,-0.2,0,0.2,0.4,0.6,0.8,1], "labelExpr": "replace((datum.value < 0 ? '-' : '') + format(abs(datum.value), '.1f'), '.', ',')", "tickSize": 5, "labelPadding": 0, "labelOverlap": false, "labelFlush": false, "labelFontSize": 26}},
    "y": {"field": "I", "type": "quantitative", "scale": {"domain": [-45.3, 41.9], "nice": false, "zero": false},
      "axis": {"orient": "left", "title": null, "values": [-40,-30,-20,-10,0,10,20,30,40], "labelExpr": "(datum.value < 0 ? '-' : '') + abs(datum.value)", "tickSize": 6, "labelPadding": 2, "labelOverlap": false, "labelFlush": false, "labelFontSize": 28}},
    "color": {"field": "c", "type": "nominal", "scale": {"domain": ["1","2","3"], "range": ["#c65a68","#1d4d6e","#74a030"]}, "legend": null},
    "order": {"value": null}}},
  {"data": {"name": "tg"}, "transform": [{"filter": "datum.k == 'ax'"}], "mark": {"type": "text", "align": "left", "baseline": "alphabetic", "fontSize": 25},
   "encoding": {
    "x": {"field": "E", "type": "quantitative", "axis": {"orient": "bottom", "title": null, "labels": false, "domain": false, "tickSize": 3, "values": [-0.56,-0.54,-0.52,-0.5,-0.48,-0.46,-0.44,-0.42,-0.4,-0.38,-0.36,-0.34,-0.32,-0.3,-0.28,-0.26,-0.24,-0.22,-0.2,-0.18,-0.16,-0.14,-0.12,-0.1,-0.08,-0.06,-0.04,-0.02,0,0.02,0.04,0.06,0.08,0.1,0.12,0.14,0.16,0.18,0.2,0.22,0.24,0.26,0.28,0.3,0.32,0.34,0.36,0.38,0.4,0.42,0.44,0.46,0.48,0.5,0.52,0.54,0.56,0.58,0.6,0.62,0.64,0.66,0.68,0.7,0.72,0.74,0.76,0.78,0.8,0.82,0.84,0.86,0.88,0.9,0.92,0.94,0.96,0.98,1,1.02]}},
    "y": {"field": "I", "type": "quantitative", "axis": {"orient": "left", "title": null, "labels": false, "domain": false, "tickSize": 3, "values": [-45,-44,-43,-42,-41,-40,-39,-38,-37,-36,-35,-34,-33,-32,-31,-30,-29,-28,-27,-26,-25,-24,-23,-22,-21,-20,-19,-18,-17,-16,-15,-14,-13,-12,-11,-10,-9,-8,-7,-6,-5,-4,-3,-2,-1,0,1,2,3,4,5,6,7,8,9,10,11,12,13,14,15,16,17,18,19,20,21,22,23,24,25,26,27,28,29,30,31,32,33,34,35,36,37,38,39,40,41]}},
    "text": {"field": "t", "type": "nominal"}}},
  {"data": {"name": "tg"}, "transform": [{"filter": "datum.k == 'ex'"}], "mark": {"type": "text", "align": "right", "baseline": "alphabetic", "fontSize": 27},
   "encoding": {"x": {"field": "E", "type": "quantitative", "axis": null}, "y": {"field": "I", "type": "quantitative", "axis": null}, "text": {"field": "t", "type": "nominal"}}},
  {"data": {"name": "tg"}, "transform": [{"filter": "datum.k == 'n'"}], "mark": {"type": "text", "align": "center", "baseline": "alphabetic", "fontSize": 26},
   "encoding": {"x": {"field": "E", "type": "quantitative", "axis": null}, "y": {"field": "I", "type": "quantitative", "axis": null}, "text": {"field": "t", "type": "nominal"}}},
  {"data": {"name": "tg"}, "transform": [{"filter": "datum.k == 'l'"}], "mark": {"type": "text", "align": "center", "baseline": "alphabetic", "fontSize": 27},
   "encoding": {"x": {"field": "E", "type": "quantitative", "axis": null}, "y": {"field": "I", "type": "quantitative", "axis": null}, "text": {"field": "t", "type": "nominal"}}}
 ]
}
]
}
